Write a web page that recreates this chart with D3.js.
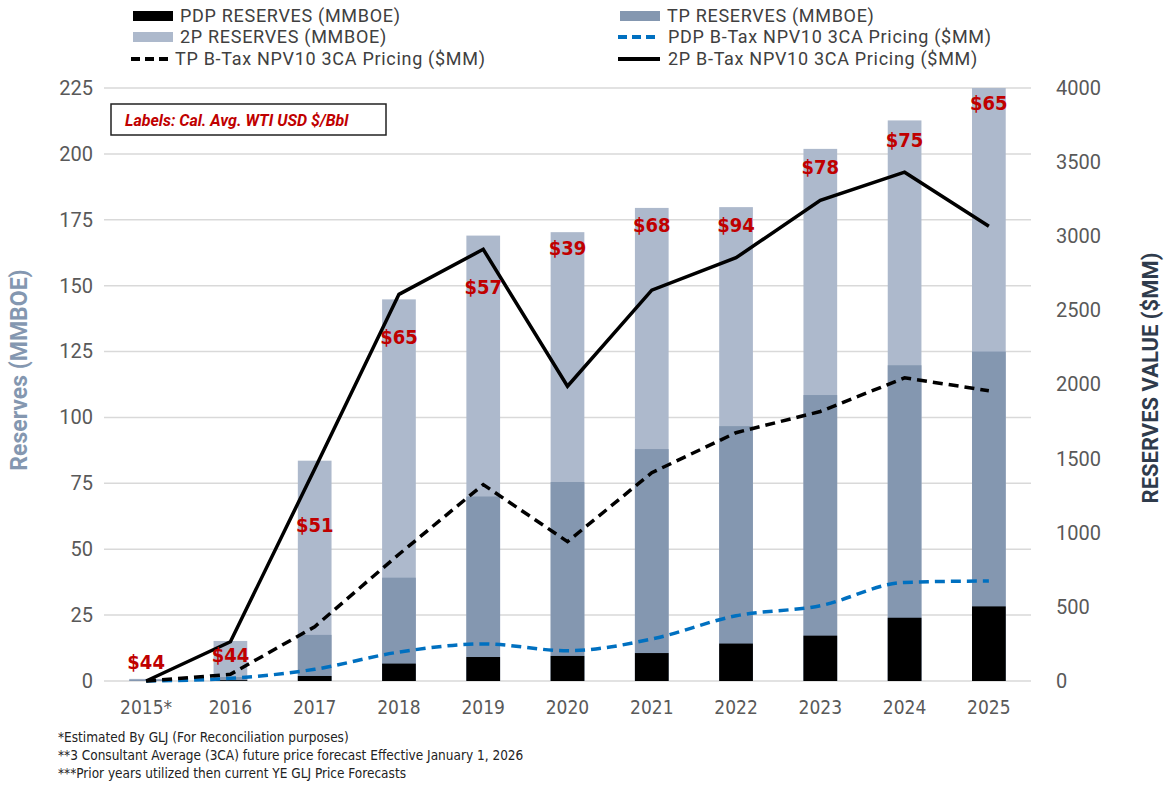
<!DOCTYPE html>
<html>
<head>
<meta charset="utf-8">
<script src="https://cdn.jsdelivr.net/npm/d3@7"></script>
<style>
  body { margin: 0; background: #fff; }
  svg { display: block; font-family: Roboto, "Noto Sans", sans-serif; }
</style>
</head>
<body>
<svg id="chart" width="1172" height="785"></svg>
<script>
// categories
var years = ['2015*', '2016', '2017', '2018', '2019', '2020', '2021', '2022', '2023', '2024', '2025']

// reserves, MMBOE (left axis)
var pdpReserves = [0, 0.3, 1.9, 6.6, 9.1, 9.5, 10.6, 14.2, 17.2, 24.0, 28.3]
var tpReserves  = [0.5, 1.5, 17.5, 39.2, 70, 75.5, 88, 96.7, 108.5, 119.8, 125]
var p2Reserves  = [0.8, 15.2, 83.6, 144.8, 169, 170.3, 179.5, 179.8, 201.9, 212.7, 225]

// B-Tax NPV10 3CA pricing, $MM (right axis)
var pdpNpv = [0, 18, 79, 195, 250, 204, 283, 440, 508, 665, 675]
var tpNpv  = [0, 45, 366, 855, 1325, 940, 1405, 1675, 1818, 2045, 1958]
var p2Npv  = [0, 265, 1430, 2608, 2912, 1988, 2636, 2855, 3242, 3432, 3068]

// price labels (cal. avg. WTI) and the reserves level each label sits at
var wtiLabels = ['$44', '$44', '$51', '$65', '$57', '$39', '$68', '$94', '$78', '$75', '$65']
var labelLevel = [7.3, 9.9, 59.2, 130.5, 149.5, 164.3, 173, 173.2, 194.9, 205.2, 219.3]

var leftTicks = d3.range(0, 226, 25)
var rightTicks = d3.range(0, 4001, 500)

var footnotes = [
  '*Estimated By GLJ (For Reconciliation purposes)',
  '**3 Consultant Average (3CA) future price forecast Effective January 1, 2026',
  '***Prior years utilized then current YE GLJ Price Forecasts'
]

function draw(){
  var col = {pdp: '#000', tp: '#8497b0', p2: '#adb9cc', blue: '#0070c0', red: '#c00000', tick: '#595959', grid: '#d9d9d9'}
  var narrow = '"Liberation Sans Narrow", "DejaVu Sans Condensed", Roboto, sans-serif'

  var svg = d3.select('#chart')
  var pl = 104, pr = 1031, pt = 88, pb = 681

  var x = d3.scaleBand().domain(years).range([pl, pr]).paddingInner(0.6).paddingOuter(0.3)
  var y = d3.scaleLinear().domain([0, 225]).range([pb, pt])
  var y2 = d3.scaleLinear().domain([0, 4000]).range([pb, pt])
  var cx = d => x(d) + x.bandwidth()/2

  // gridlines
  svg.append('g').selectAll('line').data(leftTicks).join('line')
    .attr('x1', pl).attr('x2', pr)
    .attr('y1', d => y(d)).attr('y2', d => y(d))
    .attr('stroke', col.grid).attr('stroke-width', 1.5)

  // axes
  var yAxis = svg.append('g').attr('transform', `translate(${pl - 11},0)`)
    .call(d3.axisLeft(y).tickValues(leftTicks).tickSize(0).tickPadding(0))
  var y2Axis = svg.append('g').attr('transform', `translate(${pr + 25},0)`)
    .call(d3.axisRight(y2).tickValues(rightTicks).tickFormat(d3.format('d')).tickSize(0).tickPadding(0))
  var xAxis = svg.append('g').attr('transform', `translate(0,${pb + 12})`)
    .call(d3.axisBottom(x).tickSize(0).tickPadding(8))

  ;[yAxis, y2Axis, xAxis].forEach(a => {
    a.select('.domain').remove()
    a.selectAll('text').attr('fill', col.tick).attr('font-size', 20)
      .attr('font-family', 'Roboto, sans-serif')
  })
  xAxis.selectAll('text').attr('font-size', 19).attr('font-family', narrow)

  // bars: overlaid, 2P total at back, PDP in front
  var barSets = [[p2Reserves, col.p2], [tpReserves, col.tp], [pdpReserves, col.pdp]]
  barSets.forEach(([vals, fill]) => {
    svg.append('g').selectAll('rect').data(years).join('rect')
      .attr('x', d => x(d))
      .attr('width', x.bandwidth())
      .attr('y', (d, i) => y(vals[i]))
      .attr('height', (d, i) => y(0) - y(vals[i]))
      .attr('fill', fill)
  })

  // lines
  var lineSets = [
    [pdpNpv, col.blue, '10,6', d3.curveMonotoneX],
    [tpNpv, '#000', '10,6', d3.curveLinear],
    [p2Npv, '#000', null, d3.curveLinear]
  ]
  lineSets.forEach(([vals, stroke, dash, curve]) => {
    var line = d3.line().x((d, i) => cx(years[i])).y(d => y2(d)).curve(curve)
    svg.append('path').datum(vals)
      .attr('d', line)
      .attr('fill', 'none')
      .attr('stroke', stroke)
      .attr('stroke-width', 3.5)
      .attr('stroke-dasharray', dash)
  })

  // price labels
  svg.append('g').selectAll('text').data(years).join('text')
    .attr('x', d => cx(d))
    .attr('y', (d, i) => y(labelLevel[i]))
    .attr('dy', '0.35em')
    .attr('text-anchor', 'middle')
    .attr('fill', col.red)
    .attr('font-size', 20)
    .attr('font-weight', 700)
    .attr('font-family', narrow)
    .text((d, i) => wtiLabels[i])

  // labels note box
  svg.append('rect')
    .attr('x', 111).attr('y', 104).attr('width', 275).attr('height', 31)
    .attr('fill', '#fff').attr('stroke', '#222').attr('stroke-width', 1.5)
  svg.append('text')
    .attr('x', 125).attr('y', 120).attr('dy', '0.35em')
    .attr('fill', col.red).attr('font-size', 16).attr('font-weight', 700)
    .attr('font-style', 'italic')
    .text('Labels: Cal. Avg. WTI USD $/Bbl')

  // axis titles
  svg.append('text')
    .attr('transform', 'translate(27,370) rotate(-90)')
    .attr('text-anchor', 'middle')
    .attr('fill', '#8497b0').attr('font-size', 23).attr('font-weight', 700)
    .text('Reserves (MMBOE)')
  svg.append('text')
    .attr('transform', 'translate(1158,378) rotate(-90)')
    .attr('text-anchor', 'middle')
    .attr('fill', '#2f3b4c').attr('font-size', 22).attr('font-weight', 700)
    .text('RESERVES VALUE ($MM)')

  // legend
  var legend = [
    {name: 'PDP RESERVES (MMBOE)', type: 'rect', color: col.pdp, x: 133, y: 16},
    {name: 'TP RESERVES (MMBOE)', type: 'rect', color: col.tp, x: 620, y: 16},
    {name: '2P RESERVES (MMBOE)', type: 'rect', color: col.p2, x: 133, y: 37},
    {name: 'PDP B-Tax NPV10 3CA Pricing ($MM)', type: 'dash', color: col.blue, x: 618, y: 37},
    {name: 'TP B-Tax NPV10 3CA Pricing ($MM)', type: 'dash', color: '#000', x: 131, y: 59},
    {name: '2P B-Tax NPV10 3CA Pricing ($MM)', type: 'line', color: '#000', x: 618, y: 59}
  ]
  var lg = svg.append('g').selectAll('g').data(legend).join('g')
    .attr('transform', d => `translate(${d.x},${d.y})`)
  lg.filter(d => d.type == 'rect').append('rect')
    .attr('x', 0).attr('y', -5).attr('width', 40).attr('height', 10)
    .attr('fill', d => d.color)
  lg.filter(d => d.type != 'rect').append('line')
    .attr('x1', 0).attr('x2', 42)
    .attr('stroke', d => d.color).attr('stroke-width', 4)
    .attr('stroke-dasharray', d => d.type == 'dash' ? '9,5' : null)
  lg.append('text')
    .attr('x', d => d.type == 'rect' ? 47 : (d.x > 600 ? 50 : 44)).attr('dy', '0.35em')
    .attr('fill', '#404040').attr('font-size', 18).attr('letter-spacing', 0.7)
    .text(d => d.name)

  // footnotes
  svg.append('g').selectAll('text').data(footnotes).join('text')
    .attr('x', 58).attr('y', (d, i) => 737 + i*18).attr('dy', '0.35em')
    .attr('fill', '#222').attr('font-size', 13.5)
    .attr('font-family', narrow)
    .text(d => d)
}
draw()
</script>
</body>
</html>
